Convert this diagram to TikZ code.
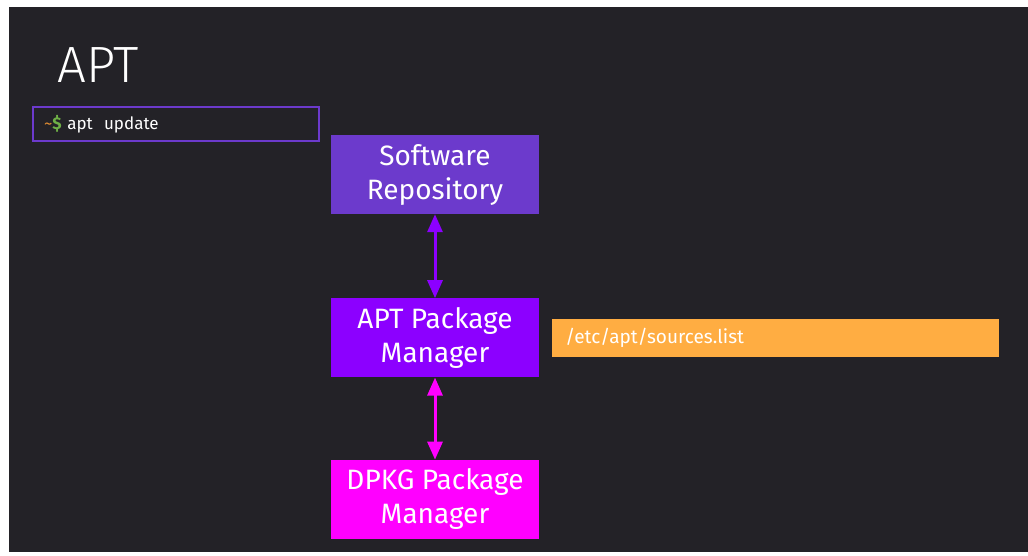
\documentclass[tikz,border=0pt]{standalone}
\usepackage{fontspec}
\setmainfont{Fira Sans}
\newfontfamily\thinfont{Fira Sans Light}
\usepackage{tikz}
\usetikzlibrary{arrows.meta,positioning}
\definecolor{board}{RGB}{35,34,39}
\definecolor{repo}{RGB}{108,58,204}
\definecolor{aptviolet}{RGB}{140,0,255}
\definecolor{dpkg}{RGB}{255,0,255}
\definecolor{sources}{RGB}{255,173,66}
\definecolor{tilde}{RGB}{224,140,50}
\definecolor{prompt}{RGB}{110,175,70}
\tikzset{>={Triangle[width=15pt,length=18pt]}}
\tikzset{%
    layer/.style={%
        minimum width=208pt, minimum height=79pt, inner sep=0pt,
        align=center, text=white, font=\fontsize{28}{34}\selectfont
    },
    twoway/.style={<->, line width=3pt, #1}
}

\begin{document}
\begin{tikzpicture}[x=1pt,y=-1pt]
\fill[white] (0,0) rectangle (1028,555);
\fill[board] (9,7) rectangle (1028,552);

\node[anchor=base west,inner sep=0pt,text=white,font=\thinfont\fontsize{51}{60}\selectfont] (title) at (57,82) {APT};

\node[draw=repo,line width=2.5pt,fill=board,text width=264pt,inner xsep=11pt,minimum height=34pt,align=left,text=white,font=\fontsize{17}{20}\selectfont] (cmd) at (176,124) {{\color{tilde}\textasciitilde}{\color{prompt}\textbf{\$}}\ apt\ \ update};

\node[layer,fill=repo] (repo) at (435,174.5) {Software\\Repository};
\node[layer,fill=aptviolet,below=84pt of repo] (apt) {APT Package\\Manager};
\node[layer,fill=dpkg,below=82pt of apt] (dpkg) {DPKG Package\\Manager};

\node[fill=sources,right=13pt of apt,text width=421pt,inner xsep=13pt,inner ysep=0pt,minimum height=38pt,align=left,text=white,font=\fontsize{19}{23}\selectfont] (list) {/etc/apt/sources.list};

\draw[twoway=aptviolet] (repo) -- (apt);
\draw[twoway=dpkg] (apt) -- (dpkg);
\end{tikzpicture}
\end{document}
